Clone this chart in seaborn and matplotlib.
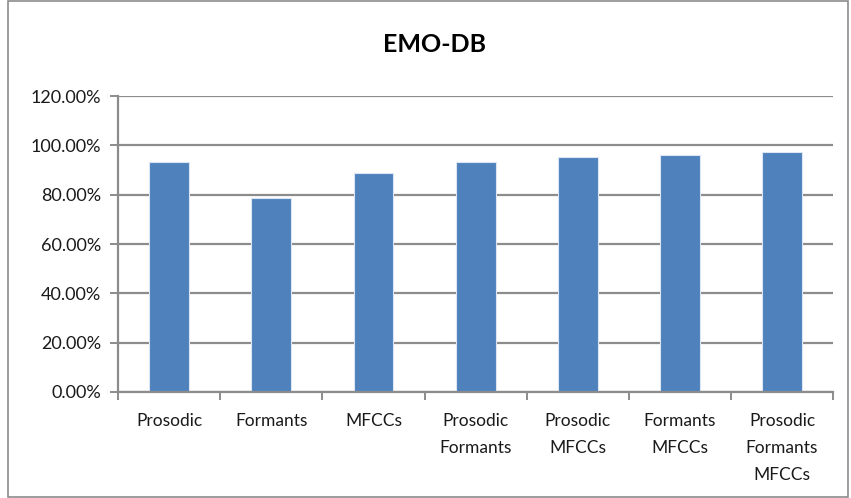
import matplotlib
matplotlib.use("Agg")
import matplotlib.pyplot as plt
from matplotlib.ticker import FuncFormatter, FixedLocator
import seaborn as sns
import pandas as pd

# Feature sets and recognition accuracy (%)
categories = ["Prosodic", "Formants", "MFCCs", "Prosodic\nFormants",
              "Prosodic\nMFCCs", "Formants\nMFCCs", "Prosodic\nFormants\nMFCCs"]
accuracy = [93.1, 78.6, 88.9, 93.1, 95.3, 96.3, 97.4]
y_ticks = [0, 20, 40, 60, 80, 100, 120]

df = pd.DataFrame({"features": categories, "accuracy": accuracy})

sns.set_theme(style="white")
plt.rcParams["font.family"] = ["Lato", "DejaVu Sans"]

fig = plt.figure(figsize=(8.51, 4.98), dpi=100)
ax = fig.add_axes([0.1387, 0.2129, 0.8403, 0.5941])

sns.barplot(data=df, x="features", y="accuracy", color="#4F81BD",
            saturation=1, width=0.39, edgecolor="#DCE6F2", linewidth=0.8,
            ax=ax)

ax.set_ylim(0, 120)
ax.set_xlim(-0.5, len(categories) - 0.5)
ax.yaxis.set_major_locator(FixedLocator(y_ticks))
ax.yaxis.set_major_formatter(FuncFormatter(lambda v, _: f"{v:.2f}%"))
ax.grid(axis="y", color="#8C8C8C", linewidth=1.6)
ax.set_axisbelow(True)
ax.set_xlabel("")
ax.set_ylabel("")

for side in ["top", "right"]:
    ax.spines[side].set_visible(False)
for side in ["left", "bottom"]:
    ax.spines[side].set_color("#8C8C8C")
    ax.spines[side].set_linewidth(1.6)

ax.tick_params(axis="y", left=True, length=6, width=1.4, color="#8C8C8C",
               labelsize=13, labelcolor="#1A1A1A", pad=6)
ax.tick_params(axis="x", which="major", length=0, labelsize=12.5,
               labelcolor="#1A1A1A", pad=15)
ax.set_xticks([i - 0.5 for i in range(len(categories) + 1)], minor=True)
ax.tick_params(axis="x", which="minor", bottom=True, length=6, width=1.4,
               color="#8C8C8C")
for lbl in ax.get_xticklabels():
    lbl.set_linespacing(1.85)

fig.text(0.51, 0.91, "EMO-DB", ha="center", va="center",
         fontsize=18, fontweight="bold", color="#000000")

# chart area frame
fig.patches.append(plt.Rectangle((0.009, 0.002), 0.988, 0.996,
                                 transform=fig.transFigure, fill=False,
                                 edgecolor="#8C8C8C", linewidth=1.2))

fig.savefig("out.png", dpi=100)
